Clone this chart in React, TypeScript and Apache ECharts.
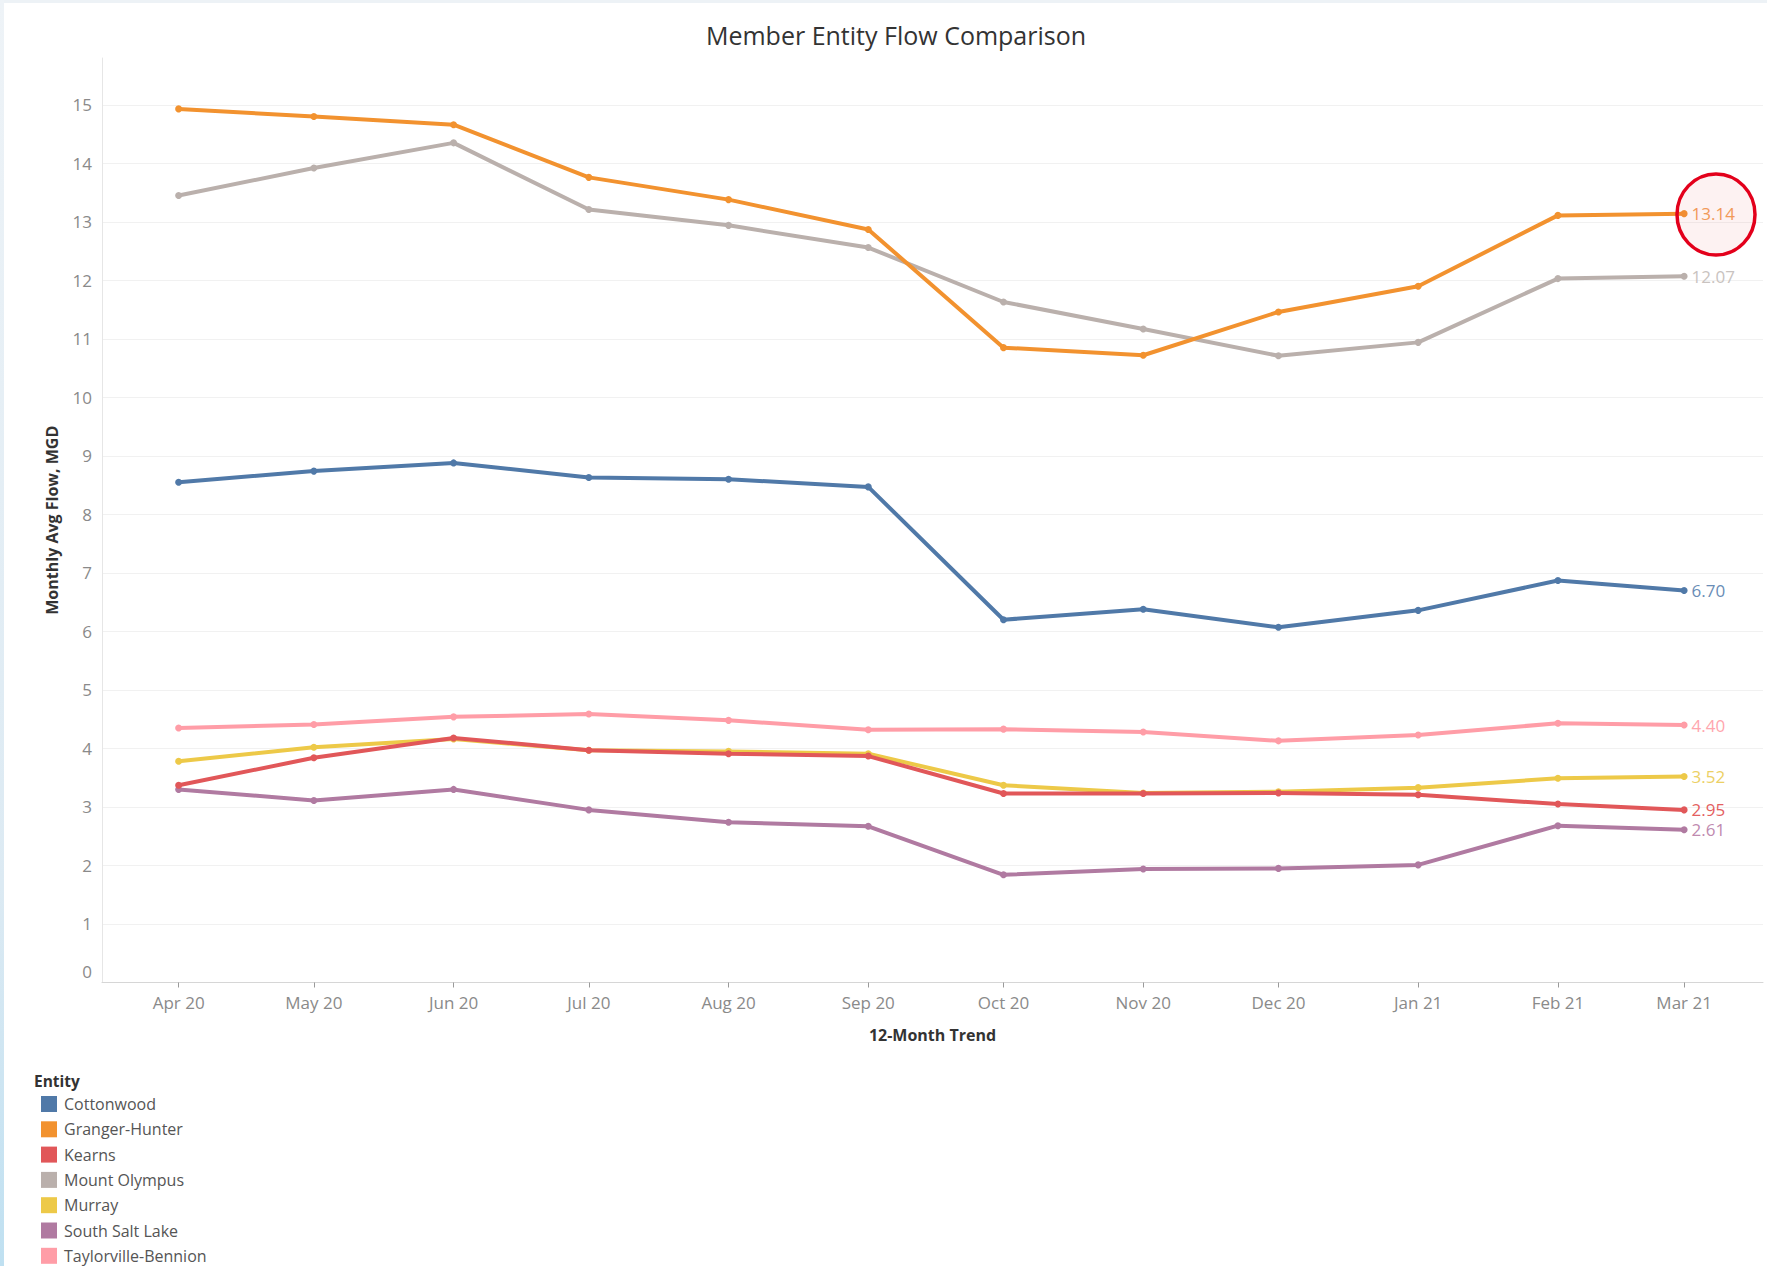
import React, { useEffect, useRef } from 'react';
import * as echarts from 'echarts';

// Monthly periods (first day of each month) and their axis labels
const months = ['2020-04', '2020-05', '2020-06', '2020-07', '2020-08', '2020-09', '2020-10', '2020-11', '2020-12', '2021-01', '2021-02', '2021-03'];
const monthLabels = ['Apr 20', 'May 20', 'Jun 20', 'Jul 20', 'Aug 20', 'Sep 20', 'Oct 20', 'Nov 20', 'Dec 20', 'Jan 21', 'Feb 21', 'Mar 21'];

// Monthly average flow, MGD
const entities = ['Cottonwood', 'Granger-Hunter', 'Kearns', 'Mount Olympus', 'Murray', 'South Salt Lake', 'Taylorville-Bennion'];
const cottonwood = [8.55, 8.74, 8.88, 8.63, 8.6, 8.47, 6.2, 6.38, 6.07, 6.36, 6.87, 6.7];
const grangerHunter = [14.93, 14.8, 14.66, 13.76, 13.38, 12.87, 10.85, 10.72, 11.46, 11.9, 13.11, 13.14];
const kearns = [3.37, 3.84, 4.18, 3.97, 3.91, 3.87, 3.23, 3.23, 3.24, 3.21, 3.05, 2.95];
const mountOlympus = [13.45, 13.92, 14.35, 13.21, 12.94, 12.56, 11.63, 11.17, 10.71, 10.94, 12.03, 12.07];
const murray = [3.78, 4.02, 4.16, 3.97, 3.95, 3.91, 3.37, 3.24, 3.26, 3.33, 3.49, 3.52];
const southSaltLake = [3.3, 3.11, 3.3, 2.95, 2.74, 2.67, 1.84, 1.94, 1.95, 2.01, 2.68, 2.61];
const taylorvilleBennion = [4.35, 4.41, 4.54, 4.59, 4.48, 4.32, 4.33, 4.28, 4.13, 4.23, 4.43, 4.4];

const entityValues = [cottonwood, grangerHunter, kearns, mountOlympus, murray, southSaltLake, taylorvilleBennion];
const entityColors = ['#5079a8', '#f2922f', '#e15759', '#bab0ac', '#edc948', '#b07aa1', '#ff9da7'];
const labelColors = ['#6a8db6', '#f3a05a', '#e45f61', '#c9c3c0', '#ecd064', '#c08ab0', '#ffa6ae'];
// drawing order (higher is drawn above)
const entityZ = [5, 7, 8, 4, 6, 3, 2];

const FONT = '"Open Sans", "Noto Sans", sans-serif';

const toTime = (ym: string) => {
  const [y, m] = ym.split('-').map(Number);
  return new Date(y, m - 1, 1).getTime();
};

const labelFor = (value: number) => {
  const d = new Date(value);
  if (d.getDate() !== 1 || d.getHours() !== 0) return '';
  const idx = months.findIndex((ym) => toTime(ym) === value);
  return idx >= 0 ? monthLabels[idx] : '';
};

export default function App() {
  const ref = useRef<HTMLDivElement>(null);

  useEffect(() => {
    if (!ref.current) return;
    const chart = echarts.init(ref.current, undefined, { renderer: 'svg' });

    const series = entities.map((name, i) => ({
      name,
      type: 'line',
      z: entityZ[i],
      symbol: 'circle',
      symbolSize: 7,
      lineStyle: { width: 4, color: entityColors[i] },
      itemStyle: { color: entityColors[i] },
      emphasis: { disabled: true },
      data: entityValues[i].map((v, j) => {
        const point: any = { value: [toTime(months[j]), v] };
        if (j === months.length - 1) {
          point.label = {
            show: true,
            position: 'right',
            distance: 4,
            formatter: (p: any) => p.value[1].toFixed(2),
            color: labelColors[i],
            fontSize: 17,
            fontFamily: FONT,
          };
        }
        return point;
      }),
    }));

    const gridColors = Array.from({ length: 16 }, () => '#f1f1f1').concat(['rgba(0,0,0,0)']);

    chart.setOption({
      animation: false,
      backgroundColor: '#ffffff',
      grid: { left: 102, right: 4, top: 58, bottom: 283.5, containLabel: false },
      xAxis: {
        type: 'time',
        min: new Date(2020, 2, 15).getTime(),
        max: new Date(2021, 2, 18, 12).getTime(),
        splitNumber: 12,
        minInterval: 28 * 86400000,
        maxInterval: 31 * 86400000,
        name: '12-Month Trend',
        nameLocation: 'middle',
        nameGap: 44,
        nameTextStyle: { fontSize: 16, fontWeight: 'bold', color: '#333', fontFamily: FONT },
        axisLine: { show: true, lineStyle: { color: '#d6d6d6', width: 1 } },
        axisTick: { show: true, length: 5, lineStyle: { color: '#9a9a9a' } },
        splitLine: { show: false },
        axisLabel: {
          formatter: labelFor,
          showMinLabel: false,
          showMaxLabel: false,
          margin: 11,
          fontSize: 17,
          color: '#8a8a8a',
          fontFamily: FONT,
        },
      },
      yAxis: {
        type: 'value',
        min: 0,
        max: 15.8,
        interval: 1,
        name: 'Monthly Avg Flow, MGD',
        nameLocation: 'middle',
        nameRotate: 90,
        nameGap: 42,
        nameTextStyle: { fontSize: 16, fontWeight: 'bold', color: '#333', fontFamily: FONT },
        axisLine: { show: true, lineStyle: { color: '#e6e6e6' } },
        axisTick: { show: false },
        splitLine: { show: true, lineStyle: { color: gridColors, width: 1 } },
        axisLabel: {
          showMaxLabel: false,
          margin: 10,
          fontSize: 17,
          color: '#8a8a8a',
          fontFamily: FONT,
          // the baseline label sits a little above the axis line
          formatter: (v: number) => (v === 0 ? '{base|0}' : String(v)),
          rich: {
            base: { fontSize: 17, color: '#8a8a8a', fontFamily: FONT, padding: [0, 0, 22, 0] },
          },
        },
      },
      legend: {
        data: entities,
        orient: 'vertical',
        left: 36,
        top: 1091,
        height: 220,
        icon: 'rect',
        itemWidth: 16,
        itemHeight: 16,
        itemGap: 9.3,
        selectedMode: false,
        textStyle: { fontSize: 16, color: '#555', fontFamily: FONT, padding: [0, 0, 0, 2] },
      },
      graphic: [
        {
          type: 'rect',
          left: 0,
          top: 0,
          shape: { width: 1767, height: 3 },
          style: { fill: '#edf2f6' },
          silent: true,
        },
        {
          type: 'rect',
          left: 0,
          top: 0,
          shape: { width: 4, height: 1266 },
          style: {
            fill: new echarts.graphic.LinearGradient(0, 0, 0, 1, [
              { offset: 0, color: '#eef3f7' },
              { offset: 0.7, color: '#dceaf3' },
              { offset: 1, color: '#bfe0f1' },
            ]),
          },
          silent: true,
        },
        {
          type: 'text',
          x: 896,
          y: 35,
          style: {
            text: 'Member Entity Flow Comparison',
            fontSize: 25,
            fontFamily: FONT,
            fill: '#333',
            align: 'center',
            verticalAlign: 'middle',
          },
        },
        {
          type: 'text',
          x: 34,
          y: 1081,
          style: {
            text: 'Entity',
            fontSize: 15.5,
            fontWeight: 'bold',
            fontFamily: FONT,
            fill: '#333',
            verticalAlign: 'middle',
          },
        },
        {
          type: 'ellipse',
          z: 100,
          shape: { cx: 1716, cy: 214.5, rx: 39, ry: 40.5 },
          style: { fill: 'rgba(235,90,90,0.08)', stroke: '#e3001b', lineWidth: 3.5 },
          silent: true,
        },
      ],
      series,
    });

    return () => chart.dispose();
  }, []);

  return (
    <div
      ref={ref}
      style={{ position: 'fixed', left: 0, top: 0, width: 1767, height: 1266, background: '#fff' }}
    />
  );
}
